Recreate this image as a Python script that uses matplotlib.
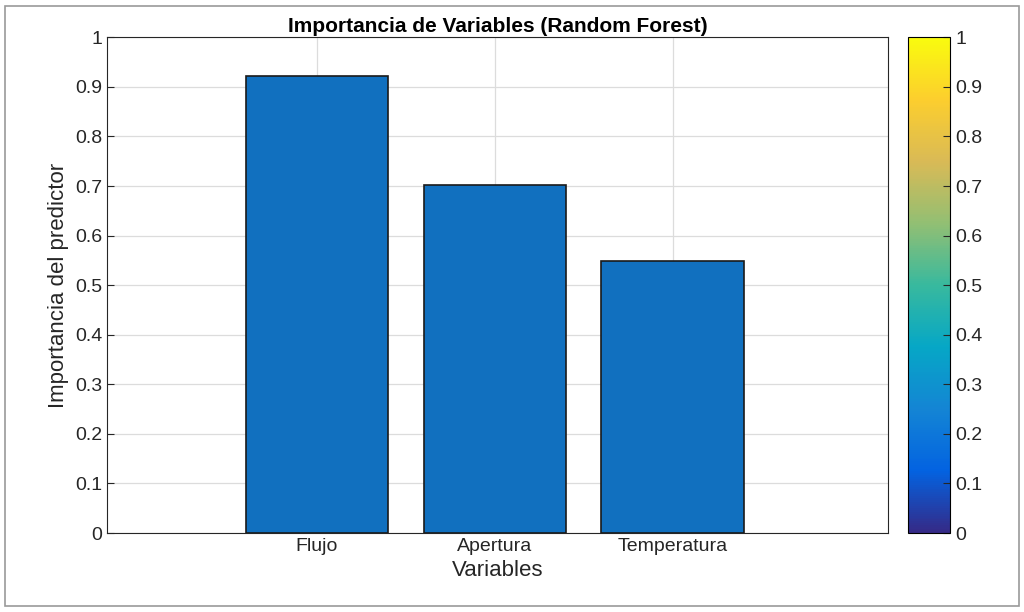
import numpy as np
import matplotlib
matplotlib.use("Agg")
import matplotlib.pyplot as plt
from matplotlib.colors import LinearSegmentedColormap, Normalize
from matplotlib.cm import ScalarMappable
from matplotlib.patches import Rectangle

plt.rcParams['font.family'] = ['Liberation Sans', 'DejaVu Sans']

# data
variables = ['Flujo', 'Apertura', 'Temperatura']
importance = [0.922, 0.703, 0.549]
positions = [1, 2, 3]
ticks = [round(0.1 * i, 1) for i in range(11)]
tick_labels = ['0', '0.1', '0.2', '0.3', '0.4', '0.5', '0.6', '0.7', '0.8', '0.9', '1']

# approximate MATLAB parula
parula = LinearSegmentedColormap.from_list('parula', [
    '#352a87', '#0363e1', '#1485d4', '#06a7c6', '#38b99e',
    '#92bf73', '#d9ba56', '#fcce2e', '#f9fb0e'])

fig = plt.figure(figsize=(10.24, 6.12), dpi=100)
fig.patch.set_facecolor('white')
fig.patches.append(Rectangle((0.005, 0.01), 0.99, 0.98, transform=fig.transFigure,
                             fill=False, edgecolor='#9a9a9a', linewidth=1.2))

ax = fig.add_axes([0.1045, 0.129, 0.7625, 0.81])
ax.bar(positions, importance, width=0.8, color='#1170BF', edgecolor='#1a1a1a',
       linewidth=1.2, zorder=3)
ax.set_xlim(-0.18, 4.21)
ax.set_ylim(0, 1)
ax.set_xticks(positions)
ax.set_xticklabels(variables)
ax.set_yticks(ticks)
ax.set_yticklabels(tick_labels)
ax.grid(True, color='#dcdcdc', linewidth=0.9, zorder=0)
ax.tick_params(labelsize=14, direction='in', length=5, colors='#262626')
ax.set_xlabel('Variables', fontsize=16, color='#262626')
ax.set_ylabel('Importancia del predictor', fontsize=16, color='#262626')
ax.set_title('Importancia de Variables (Random Forest)', fontsize=15,
             fontweight='bold', pad=4)
for s in ax.spines.values():
    s.set_color('#262626')

cax = fig.add_axes([0.887, 0.129, 0.041, 0.81])
cb = fig.colorbar(ScalarMappable(norm=Normalize(0, 1), cmap=parula), cax=cax)
cb.set_ticks(ticks)
cb.set_ticklabels(tick_labels)
cax.tick_params(labelsize=14, direction='in', length=5, colors='#262626')

fig.savefig('out.png', dpi=100)
